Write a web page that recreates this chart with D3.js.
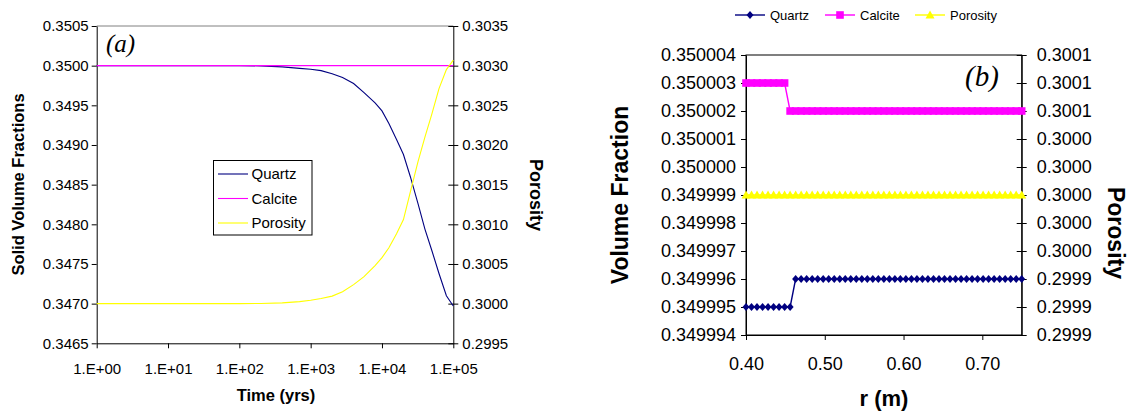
<!DOCTYPE html>
<html>
<head>
<meta charset="utf-8">
<script src="https://cdn.jsdelivr.net/npm/d3@7"></script>
<style>
  body { margin: 0; background: #fff; }
  svg { display: block; }
  text { font-family: "Liberation Sans", Arial, sans-serif; fill: #000; }
</style>
</head>
<body>
<svg id="chart" width="1135" height="412"></svg>
<script>
// ---------- (a) evolution with time ----------
const timeYears = [1, 10, 100, 200, 400, 700, 1000, 1400, 2000, 2800, 4000, 5600, 8000,
  10000, 12500, 16000, 20000, 25000, 32000, 40000, 50000, 63000, 80000, 100000];
const quartzA = [0.350000, 0.350000, 0.350000, 0.349997, 0.349985, 0.349966, 0.349955,
  0.349937, 0.349898, 0.349850, 0.349775, 0.349660, 0.349530, 0.349430, 0.349270,
  0.349070, 0.348880, 0.348600, 0.348260, 0.347940, 0.347670, 0.347380, 0.347100, 0.346970];
const calciteA = [0.35, 0.35, 0.35, 0.35, 0.35, 0.35, 0.35, 0.35, 0.35, 0.35, 0.35, 0.35,
  0.35, 0.35, 0.35, 0.35, 0.35, 0.35, 0.35, 0.35, 0.35, 0.35, 0.35, 0.35];
const porosityA = [0.300000, 0.300000, 0.300000, 0.300002, 0.300010, 0.300025, 0.300042,
  0.300065, 0.300095, 0.300150, 0.300240, 0.300340, 0.300480, 0.300580, 0.300705,
  0.300880, 0.301060, 0.301410, 0.301790, 0.302100, 0.302390, 0.302710, 0.302950, 0.303070];
const timeTicks = [1, 10, 100, 1000, 10000, 100000];
const timeTickLabels = ["1.E+00", "1.E+01", "1.E+02", "1.E+03", "1.E+04", "1.E+05"];
const solidTicksA = [0.3465, 0.3470, 0.3475, 0.3480, 0.3485, 0.3490, 0.3495, 0.3500, 0.3505];
const porosityTicksA = [0.2995, 0.3000, 0.3005, 0.3010, 0.3015, 0.3020, 0.3025, 0.3030, 0.3035];

// ---------- (b) profile along r ----------
const radius = [0.400, 0.407, 0.414, 0.421, 0.428, 0.435, 0.442, 0.449, 0.456, 0.463,
  0.470, 0.477, 0.484, 0.491, 0.498, 0.505, 0.512, 0.519, 0.526, 0.533, 0.540, 0.547,
  0.554, 0.561, 0.568, 0.575, 0.582, 0.589, 0.596, 0.603, 0.610, 0.617, 0.624, 0.631,
  0.638, 0.645, 0.652, 0.659, 0.666, 0.673, 0.680, 0.687, 0.694, 0.701, 0.708, 0.715,
  0.722, 0.729, 0.736, 0.743, 0.750];
const quartzB = [0.349995, 0.349995, 0.349995, 0.349995, 0.349995, 0.349995, 0.349995,
  0.349995, 0.349995, 0.349996, 0.349996, 0.349996, 0.349996, 0.349996, 0.349996,
  0.349996, 0.349996, 0.349996, 0.349996, 0.349996, 0.349996, 0.349996, 0.349996,
  0.349996, 0.349996, 0.349996, 0.349996, 0.349996, 0.349996, 0.349996, 0.349996,
  0.349996, 0.349996, 0.349996, 0.349996, 0.349996, 0.349996, 0.349996, 0.349996,
  0.349996, 0.349996, 0.349996, 0.349996, 0.349996, 0.349996, 0.349996, 0.349996,
  0.349996, 0.349996, 0.349996, 0.349996];
const calciteB = [0.350003, 0.350003, 0.350003, 0.350003, 0.350003, 0.350003, 0.350003,
  0.350003, 0.350002, 0.350002, 0.350002, 0.350002, 0.350002, 0.350002, 0.350002,
  0.350002, 0.350002, 0.350002, 0.350002, 0.350002, 0.350002, 0.350002, 0.350002,
  0.350002, 0.350002, 0.350002, 0.350002, 0.350002, 0.350002, 0.350002, 0.350002,
  0.350002, 0.350002, 0.350002, 0.350002, 0.350002, 0.350002, 0.350002, 0.350002,
  0.350002, 0.350002, 0.350002, 0.350002, 0.350002, 0.350002, 0.350002, 0.350002,
  0.350002, 0.350002, 0.350002, 0.350002];
const porosityB = [0.3000, 0.3000, 0.3000, 0.3000, 0.3000, 0.3000, 0.3000, 0.3000, 0.3000,
  0.3000, 0.3000, 0.3000, 0.3000, 0.3000, 0.3000, 0.3000, 0.3000, 0.3000, 0.3000, 0.3000,
  0.3000, 0.3000, 0.3000, 0.3000, 0.3000, 0.3000, 0.3000, 0.3000, 0.3000, 0.3000, 0.3000,
  0.3000, 0.3000, 0.3000, 0.3000, 0.3000, 0.3000, 0.3000, 0.3000, 0.3000, 0.3000, 0.3000,
  0.3000, 0.3000, 0.3000, 0.3000, 0.3000, 0.3000, 0.3000, 0.3000, 0.3000];
const radiusTicks = [0.40, 0.50, 0.60, 0.70];
const fractionTicksB = [0.349994, 0.349995, 0.349996, 0.349997, 0.349998, 0.349999,
  0.350000, 0.350001, 0.350002, 0.350003, 0.350004];
const porosityTicksB = [0.29990, 0.29992, 0.29994, 0.29996, 0.29998, 0.30000,
  0.30002, 0.30004, 0.30006, 0.30008, 0.30010];

const seriesNames = ["Quartz", "Calcite", "Porosity"];
const seriesColors = ["#000080", "#FF00FF", "#FFFF00"];

const svg = d3.select("#chart");

function styleAxis(g, size) {
  g.attr("font-family", null).attr("font-size", null);
  g.selectAll("text").style("font-size", size + "px");
  g.selectAll("line, path").attr("stroke", "#000");
}

// ======================= panel (a) =======================
{
  const x = d3.scaleLog().domain([1, 100000]).range([96.7, 453.3]);
  const y = d3.scaleLinear().domain([0.3465, 0.3505]).range([343.3, 26]);
  const y2 = d3.scaleLinear().domain([0.2995, 0.3035]).range([343.3, 26]);
  const g = svg.append("g");

  // top border of plot area
  g.append("line").attr("x1", x.range()[0]).attr("x2", x.range()[1])
    .attr("y1", y.range()[1]).attr("y2", y.range()[1])
    .attr("stroke", "#808080").attr("stroke-width", 1);

  g.append("g").attr("transform", `translate(${x.range()[0]},0)`)
    .call(d3.axisLeft(y).tickValues(solidTicksA).tickFormat(d3.format(".4f"))
      .tickSizeInner(5).tickSizeOuter(0).tickPadding(3))
    .call(a => styleAxis(a, 15));

  g.append("g").attr("transform", `translate(${x.range()[1]},0)`)
    .call(d3.axisRight(y2).tickValues(porosityTicksA).tickFormat(d3.format(".4f"))
      .tickSizeInner(5).tickSizeOuter(0).tickPadding(4))
    .call(a => styleAxis(a, 15))
    .call(a => a.selectAll(".tick line").attr("x1", -5));

  g.append("g").attr("transform", `translate(0,${y.range()[0]})`)
    .call(d3.axisBottom(x).tickValues(timeTicks)
      .tickFormat((d, i) => timeTickLabels[i]).tickSizeInner(5).tickSizeOuter(0).tickPadding(15))
    .call(a => styleAxis(a, 15));

  const lineA = (vals, ys) => d3.line().x((d, i) => x(timeYears[i])).y(d => ys(d))(vals);
  g.append("path").attr("d", lineA(quartzA, y)).attr("fill", "none")
    .attr("stroke", seriesColors[0]).attr("stroke-width", 1.1);
  g.append("path").attr("d", lineA(calciteA, y)).attr("fill", "none")
    .attr("stroke", seriesColors[1]).attr("stroke-width", 1.1);
  g.append("path").attr("d", lineA(porosityA, y2)).attr("fill", "none")
    .attr("stroke", seriesColors[2]).attr("stroke-width", 1.1);

  g.append("text").attr("x", 106).attr("y", 52)
    .style("font-family", "'Liberation Serif', 'Times New Roman', serif")
    .style("font-style", "italic").style("font-size", "25px").text("(a)");

  // legend
  const lg = g.append("g");
  lg.append("rect").attr("x", 213.5).attr("y", 160.5).attr("width", 98.5).attr("height", 74.5)
    .attr("fill", "#fff").attr("stroke", "#000").attr("stroke-width", 1);
  seriesNames.forEach((name, i) => {
    const yy = 174 + i * 24.5;
    lg.append("line").attr("x1", 218).attr("x2", 248).attr("y1", yy).attr("y2", yy)
      .attr("stroke", seriesColors[i]).attr("stroke-width", 1.1);
    lg.append("text").attr("x", 251.5).attr("y", yy).attr("dy", "0.35em")
      .style("font-size", "15px").text(name);
  });

  g.append("text").attr("x", 276).attr("y", 401).attr("text-anchor", "middle")
    .style("font-size", "16.5px").style("font-weight", "bold").text("Time (yrs)");
  g.append("text").attr("transform", "translate(18,184.5) rotate(-90)")
    .attr("text-anchor", "middle").attr("dy", "0.35em")
    .style("font-size", "16.5px").style("font-weight", "bold").text("Solid Volume Fractions");
  g.append("text").attr("transform", "translate(536,195) rotate(90)")
    .attr("text-anchor", "middle").attr("dy", "0.35em")
    .style("font-size", "18px").style("font-weight", "bold").text("Porosity");
}

// ======================= panel (b) =======================
const diamond = "M0,-4L3.5,0L0,4L-3.5,0Z";
const square = "M-3.8,-3.8H3.8V3.8H-3.8Z";
const triangle = "M0,-4.5L4.5,3.5H-4.5Z";
const shapes = [diamond, square, triangle];
{
  const x = d3.scaleLinear().domain([0.40, 0.75]).range([746, 1021.7]);
  const y = d3.scaleLinear().domain([0.349994, 0.350004]).range([335, 55]);
  const y2 = d3.scaleLinear().domain([0.2999, 0.3001]).range([335, 55]);
  const g = svg.append("g");

  g.append("rect").attr("x", x.range()[0]).attr("y", y.range()[1])
    .attr("width", x.range()[1] - x.range()[0]).attr("height", y.range()[0] - y.range()[1])
    .attr("fill", "none").attr("stroke", "#000").attr("stroke-width", 1);

  g.append("g").attr("transform", `translate(${x.range()[0]},0)`)
    .call(d3.axisLeft(y).tickValues(fractionTicksB).tickFormat(d3.format(".6f"))
      .tickSizeInner(5).tickSizeOuter(0).tickPadding(5))
    .call(a => styleAxis(a, 18));

  g.append("g").attr("transform", `translate(${x.range()[1]},0)`)
    .call(d3.axisRight(y2).tickValues(porosityTicksB).tickFormat(d3.format(".4f"))
      .tickSizeInner(5).tickSizeOuter(0).tickPadding(10))
    .call(a => styleAxis(a, 18))
    .call(a => a.selectAll(".tick line").attr("x1", -5));

  g.append("g").attr("transform", `translate(0,${y.range()[0]})`)
    .call(d3.axisBottom(x).tickValues(radiusTicks).tickFormat(d3.format(".2f"))
      .tickSizeInner(5).tickSizeOuter(0).tickPadding(17))
    .call(a => styleAxis(a, 18));

  const series = [
    { vals: quartzB, ys: y },
    { vals: calciteB, ys: y },
    { vals: porosityB, ys: y2 }
  ];
  series.forEach((s, k) => {
    const line = d3.line().x((d, i) => x(radius[i])).y(d => s.ys(d));
    g.append("path").attr("d", line(s.vals)).attr("fill", "none")
      .attr("stroke", seriesColors[k]).attr("stroke-width", 1.4);
    g.append("g").selectAll("path").data(s.vals).join("path")
      .attr("transform", (d, i) => `translate(${x(radius[i])},${s.ys(d)})`)
      .attr("d", shapes[k]).attr("fill", seriesColors[k]);
  });

  g.append("text").attr("x", 965).attr("y", 86)
    .style("font-family", "'Liberation Serif', 'Times New Roman', serif")
    .style("font-style", "italic").style("font-size", "29px").text("(b)");

  // legend above the panel
  const legendX = [735, 825, 915];
  seriesNames.forEach((name, i) => {
    const lx = legendX[i];
    svg.append("line").attr("x1", lx).attr("x2", lx + 30).attr("y1", 15).attr("y2", 15)
      .attr("stroke", seriesColors[i]).attr("stroke-width", 1.4);
    svg.append("path").attr("transform", `translate(${lx + 15},15)`)
      .attr("d", shapes[i]).attr("fill", seriesColors[i]);
    svg.append("text").attr("x", lx + 35).attr("y", 15).attr("dy", "0.35em")
      .style("font-size", "13px").text(name);
  });

  g.append("text").attr("x", 884).attr("y", 406).attr("text-anchor", "middle")
    .style("font-size", "22px").style("font-weight", "bold").text("r (m)");
  g.append("text").attr("transform", "translate(620,195) rotate(-90)")
    .attr("text-anchor", "middle").attr("dy", "0.35em")
    .style("font-size", "23px").style("font-weight", "bold").text("Volume Fraction");
  g.append("text").attr("transform", "translate(1116,233) rotate(90)")
    .attr("text-anchor", "middle").attr("dy", "0.35em")
    .style("font-size", "23px").style("font-weight", "bold").text("Porosity");
}
</script>
</body>
</html>
